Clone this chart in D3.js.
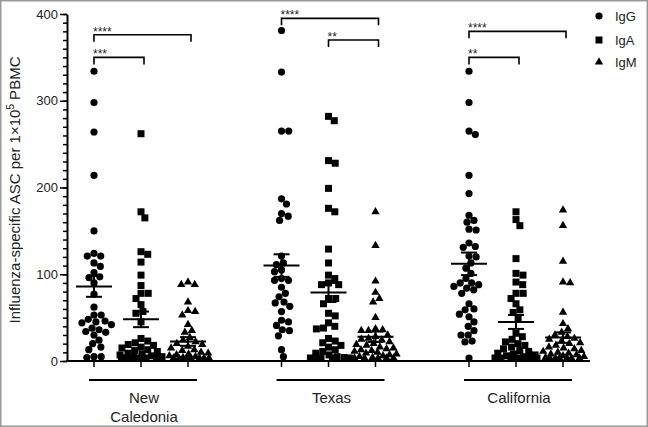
<!DOCTYPE html>
<html>
<head>
<meta charset="utf-8">
<script src="https://cdn.jsdelivr.net/npm/d3@7"></script>
<style>
  body { margin: 0; background: #fff; }
  text { font-family: "Liberation Sans", Arial, sans-serif; fill: #222; }
</style>
</head>
<body>
<svg width="648" height="427"></svg>
<script>
// groups / isotypes
const groups = ["New Caledonia", "Texas", "California"];
const isotypes = ["IgG", "IgA", "IgM"];

// ASC counts per 1x10^5 PBMC
const ncIgG = [334, 298, 264, 214, 150, 124, 121, 121, 113, 109, 102, 97, 96, 90, 77, 62, 53, 53, 48, 46, 45, 44, 42, 38, 36, 34, 33, 30, 24, 20, 16, 13, 5, 5, 4];
const ncIgA = [262, 172, 165, 126, 123, 114, 99, 87, 78, 78, 72, 65, 57, 55, 45, 26, 23, 21, 19, 18, 16, 15, 13, 12, 11, 9, 8, 7, 6, 5, 4, 3, 3, 2, 1, 1, 0, 0];
const ncIgM = [91, 88, 88, 68, 58, 57, 53, 42, 35, 33, 27, 24, 22, 20, 19, 17, 15, 13, 12, 10, 9, 8, 7, 6, 5, 4, 3, 3, 2, 1, 1, 0, 0];
const txIgG = [381, 333, 265, 265, 187, 181, 170, 167, 162, 121, 113, 111, 105, 103, 95, 93, 93, 85, 78, 74, 68, 67, 63, 57, 47, 45, 41, 36, 35, 29, 13, 5];
const txIgA = [282, 277, 231, 228, 199, 176, 172, 129, 113, 99, 95, 90, 88, 88, 72, 72, 66, 55, 52, 44, 40, 38, 37, 26, 23, 21, 18, 16, 13, 11, 9, 7, 5, 4, 3, 2, 1, 0, 0];
const txIgM = [172, 133, 92, 79, 72, 68, 50, 37, 36, 35, 35, 30, 28, 26, 25, 24, 22, 20, 19, 18, 16, 15, 14, 13, 12, 11, 10, 9, 8, 7, 6, 5, 4, 3, 2, 1, 0, 0];
const caIgG = [334, 298, 265, 261, 214, 193, 168, 162, 160, 152, 151, 136, 132, 131, 121, 120, 113, 107, 101, 95, 90, 90, 88, 86, 84, 82, 78, 66, 60, 59, 54, 51, 45, 40, 35, 30, 30, 23, 22, 2];
const caIgA = [172, 163, 156, 118, 101, 99, 91, 88, 78, 78, 72, 66, 59, 56, 50, 32, 28, 25, 22, 20, 18, 16, 14, 12, 11, 9, 8, 7, 6, 5, 4, 3, 2, 2, 1, 0, 0, 0];
const caIgM = [174, 156, 115, 91, 90, 56, 43, 37, 33, 30, 28, 26, 25, 23, 21, 20, 18, 16, 15, 14, 12, 11, 10, 9, 8, 7, 6, 5, 4, 3, 2, 1, 1, 0, 0];

// mean and SEM per group (IgG, IgA, IgM)
const ncMean = [86, 48, 22.5], ncSem = [12, 9, 5];
const txMean = [110, 79, 28], txSem = [13, 11, 6];
const caMean = [112, 45, 27], caSem = [13, 8, 6];

// significance brackets: group, from isotype, to isotype, level, stars
const sigGroup = ["New Caledonia", "New Caledonia", "Texas", "Texas", "California", "California"];
const sigFrom = ["IgG", "IgG", "IgG", "IgA", "IgG", "IgG"];
const sigTo = ["IgM", "IgA", "IgM", "IgM", "IgM", "IgA"];
const sigLevel = [376, 350, 395, 370, 380, 350];
const sigText = ["****", "***", "****", "**", "****", "**"];

const yTicks = [0, 100, 200, 300, 400];

const series = [
  { group: "New Caledonia", values: [ncIgG, ncIgA, ncIgM], mean: ncMean, sem: ncSem },
  { group: "Texas", values: [txIgG, txIgA, txIgM], mean: txMean, sem: txSem },
  { group: "California", values: [caIgG, caIgA, caIgM], mean: caMean, sem: caSem },
];

const svg = d3.select("svg");

// frame
svg.append("rect")
  .attr("x", 0.75).attr("y", 0.75)
  .attr("width", 646.5).attr("height", 425.5)
  .attr("fill", "none").attr("stroke", "#9a9a9a").attr("stroke-width", 1.5);

const y = d3.scaleLinear().domain([0, 400]).range([361, 14]);
const xGroup = d3.scalePoint().domain(groups).range([141, 516]);
const xIso = d3.scalePoint().domain(isotypes).range([-47, 47]);
const colX = (g, iso) => xGroup(g) + xIso(iso);

const axisX = 67, axisEnd = 590;

// minor ticks
svg.append("g")
  .attr("transform", `translate(${axisX},0)`)
  .call(d3.axisLeft(y).tickValues(d3.range(0, 401, 10)).tickSize(4).tickFormat(""))
  .call(g => g.select(".domain").remove())
  .call(g => g.selectAll("line").attr("stroke", "#000").attr("stroke-width", 1.5));

// y axis
svg.append("g")
  .attr("transform", `translate(${axisX},0)`)
  .call(d3.axisLeft(y).tickValues(yTicks).tickSize(7).tickPadding(2).tickSizeOuter(0))
  .call(g => g.select(".domain").attr("stroke", "#000").attr("stroke-width", 2))
  .call(g => g.selectAll("line").attr("stroke", "#000").attr("stroke-width", 1.5))
  .call(g => g.selectAll("text").style("font-size", "13px").attr("fill", "#222")
    .style("font-family", '"Liberation Sans", Arial, sans-serif'));

// y label
const yl = svg.append("text")
  .attr("transform", "translate(20,190) rotate(-90)")
  .attr("text-anchor", "middle")
  .style("font-size", "15px");
yl.append("tspan").text("Influenza-specific ASC per 1\u00d710");
yl.append("tspan").text("5").attr("dy", -6).style("font-size", "10px");
yl.append("tspan").text(" PBMC").attr("dy", 6);

// x axis line
svg.append("line")
  .attr("x1", axisX - 1).attr("x2", axisEnd)
  .attr("y1", y(0)).attr("y2", y(0))
  .attr("stroke", "#000").attr("stroke-width", 2);

// column ticks
groups.forEach(g => {
  isotypes.forEach(iso => {
    svg.append("line")
      .attr("x1", colX(g, iso)).attr("x2", colX(g, iso))
      .attr("y1", y(0)).attr("y2", y(0) + 6)
      .attr("stroke", "#000").attr("stroke-width", 1.5);
  });
  // group underline
  svg.append("line")
    .attr("x1", colX(g, "IgG") - 5).attr("x2", colX(g, "IgM") + 9)
    .attr("y1", 380).attr("y2", 380)
    .attr("stroke", "#000").attr("stroke-width", 2);
});

// group labels
groups.forEach(g => {
  const words = g === "New Caledonia" ? ["New", "Caledonia"] : [g];
  const t = svg.append("text")
    .attr("text-anchor", "middle")
    .style("font-size", "15px");
  words.forEach((w, i) => {
    t.append("tspan").attr("x", xGroup(g) + 3).attr("y", 403 + i * 19).text(w);
  });
});

// beeswarm layout, kept within +/- cap of the column centre
const R = 3.6, D = 7.2, cap = 21;
function swarm(values) {
  const pts = values.map(v => ({ v: v, py: Math.min(y(v), y(0) - 3) })).sort((a, b) => a.py - b.py);
  const placed = [];
  pts.forEach(p => {
    const near = placed.filter(q => Math.abs(q.py - p.py) < D);
    const cands = [0];
    near.forEach(q => {
      const dx = Math.sqrt(D * D - (q.py - p.py) ** 2);
      cands.push(q.dx + dx, q.dx - dx);
    });
    const ok = cands
      .filter(c => Math.abs(c) <= cap)
      .sort((a, b) => Math.abs(a) - Math.abs(b))
      .find(c => near.every(q => (q.dx - c) ** 2 + (q.py - p.py) ** 2 >= D * D - 0.01));
    if (ok !== undefined) {
      p.dx = ok;
    } else {
      // no free spot: take the least crowded spot inside the cap
      let best = 0, bestD = -1;
      for (let c = -cap; c <= cap; c += 0.5) {
        const dmin = d3.min(near, q => (q.dx - c) ** 2 + (q.py - p.py) ** 2);
        if (dmin > bestD + 1e-6) { bestD = dmin; best = c; }
      }
      p.dx = best;
    }
    placed.push(p);
  });
  return placed;
}

const shapes = {
  IgG: d3.symbol().type(d3.symbolCircle).size(Math.PI * R * R),
  IgA: d3.symbol().type(d3.symbolSquare).size(49),
  IgM: d3.symbol().type(d3.symbolTriangle).size(30),
};

series.forEach(s => {
  isotypes.forEach((iso, k) => {
    const cx = colX(s.group, iso);
    svg.append("g")
      .selectAll("path")
      .data(swarm(s.values[k]))
      .join("path")
      .attr("d", shapes[iso])
      .attr("transform", d => `translate(${cx + d.dx},${d.py})`)
      .attr("fill", "#000");

    // mean +/- SEM
    const m = s.mean[k], e = s.sem[k];
    const g = svg.append("g").attr("stroke", "#000").attr("stroke-width", 2);
    g.append("line").attr("x1", cx - 18).attr("x2", cx + 18).attr("y1", y(m)).attr("y2", y(m));
    g.append("line").attr("x1", cx).attr("x2", cx).attr("y1", y(m + e)).attr("y2", y(m - e));
    g.append("line").attr("x1", cx - 8).attr("x2", cx + 8).attr("y1", y(m + e)).attr("y2", y(m + e));
    g.append("line").attr("x1", cx - 8).attr("x2", cx + 8).attr("y1", y(m - e)).attr("y2", y(m - e));
  });
});

// significance brackets
sigGroup.forEach((g, i) => {
  const x1 = colX(g, sigFrom[i]), x2 = colX(g, sigTo[i]) + 3;
  const yy = y(sigLevel[i]);
  svg.append("path")
    .attr("d", `M${x1},${yy + 7}V${yy}H${x2}V${yy + 7}`)
    .attr("fill", "none").attr("stroke", "#000").attr("stroke-width", 1.6);
  svg.append("text")
    .attr("x", x1 - 1).attr("y", yy + 1)
    .style("font-size", "12px").attr("fill", "#444")
    .text(sigText[i]);
});

// legend
isotypes.forEach((iso, i) => {
  const ly = [16, 40, 62][i];
  svg.append("path").attr("d", shapes[iso]).attr("transform", `translate(599,${ly})`).attr("fill", "#000");
  svg.append("text").attr("x", 615).attr("y", ly).attr("dy", "0.35em")
    .style("font-size", "13px").text(iso);
});
</script>
</body>
</html>
